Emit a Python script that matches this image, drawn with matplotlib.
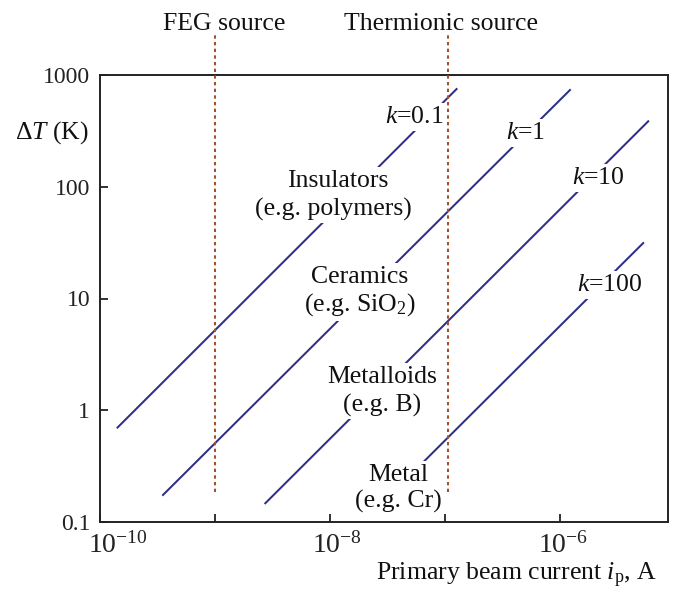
import matplotlib
matplotlib.use("Agg")
import matplotlib.pyplot as plt
import matplotlib.transforms as mtransforms
import numpy as np

plt.rcParams['font.family'] = ['Liberation Serif', 'DejaVu Serif']
plt.rcParams['mathtext.fontset'] = 'custom'
plt.rcParams['mathtext.rm'] = 'Liberation Serif'
plt.rcParams['mathtext.it'] = 'Liberation Serif:italic'
plt.rcParams['mathtext.bf'] = 'Liberation Serif:bold'

# ---- data ----
k_labels = ["$k$=0.1", "$k$=1", "$k$=10", "$k$=100"]
line_i_start = [1.40e-10, 3.48e-10, 2.70e-9, 6.56e-8]      # A
line_i_end = [1.28e-7, 1.24e-6, 5.94e-6, 5.37e-6]          # A
line_T_start = [0.69, 0.172, 0.145, 0.348]                 # K
line_T_end = [760.0, 745.0, 391.0, 31.8]                   # K

source_names = ["FEG source", "Thermionic source"]
source_currents = [1e-9, 1.07e-7]
source_T_range = [0.185, 2280.0]

material_names = ["Insulators", "Ceramics", "Metalloids", "Metal"]
material_examples = ["(e.g. polymers)", "(e.g. SiO$_2$)", "(e.g. B)", "(e.g. Cr)"]

x_ticks = [1e-10, 1e-9, 1e-8, 1e-7, 1e-6]
x_ticklabels = [r"$10^{-10}$", "", r"$10^{-8}$", "", r"$10^{-6}$"]
y_ticks = [0.1, 1, 10, 100, 1000]
y_ticklabels = ["0.1", "1", "10", "100", "1000"]

W, H = 673, 601
L, R, T, B = 100, 668, 75, 522
fig = plt.figure(figsize=(W / 100, H / 100), dpi=100)
ax = fig.add_axes([L / W, 1 - B / H, (R - L) / W, (B - T) / H])

def px(x, y):
    return ((x - L) / (R - L), (B - y) / (B - T))

line_color = "#2e2f85"
dot_color = "#a3522e"

for i0, i1, t0, t1 in zip(line_i_start, line_i_end, line_T_start, line_T_end):
    ax.plot([i0, i1], [t0, t1], color=line_color, lw=1.45, zorder=2,
            solid_capstyle='butt')

for xs in source_currents:
    ax.plot([xs, xs], source_T_range, color=dot_color, lw=1.5,
            dashes=(1.6, 1.6), zorder=6, clip_on=False)

ax.set_xscale('log')
ax.set_yscale('log')
ax.set_xlim(1e-10, 8.7e-6)
ax.set_ylim(0.1, 1000)
ax.set_xticks(x_ticks)
ax.set_yticks(y_ticks)
ax.set_yticklabels(y_ticklabels)
ax.minorticks_off()
ax.tick_params(direction='in', length=6, width=1.3, labelsize=17, pad=7,
               colors='#222222')
ax.set_xticklabels(x_ticklabels, fontsize=20)
ax.tick_params(axis='x', pad=7)
# small horizontal offsets of the exponent labels, as in the reference
x_label_shift_px = [18, 0, 7, 0, 3]
for lab, dx in zip(ax.get_xticklabels(), x_label_shift_px):
    lab.set_transform(lab.get_transform() +
                      mtransforms.ScaledTranslation(dx / 100, 0, fig.dpi_scale_trans))
for s in ax.spines.values():
    s.set_linewidth(1.4)
    s.set_color('#222222')

fs = 18.5
bb = dict(facecolor='white', edgecolor='none', pad=2.0)

# k labels
k_pos = [(414, 117), (526, 133), (598, 178), (610, 285)]
for lab, (x, y) in zip(k_labels, k_pos):
    ax.text(*px(x, y), lab, transform=ax.transAxes, ha='center', va='center',
            fontsize=fs, bbox=bb, zorder=4, color='#111111')

# material labels
name_pos = [(338, 181), (360, 277), (382, 377), (398, 475)]
ex_pos = [(333, 209), (360, 305), (382, 405), (398, 501)]
for lab, (x, y) in zip(material_names, name_pos):
    ax.text(*px(x, y), lab, transform=ax.transAxes, ha='center', va='center',
            fontsize=fs, bbox=bb, zorder=4, color='#111111')
for lab, (x, y) in zip(material_examples, ex_pos):
    ax.text(*px(x, y), lab, transform=ax.transAxes, ha='center', va='center',
            fontsize=fs, bbox=bb, zorder=4, color='#111111')

# source titles
src_pos = [(224.5, 30), (440.5, 30)]
for lab, (x, y) in zip(source_names, src_pos):
    ax.text(*px(x, y), lab, transform=ax.transAxes, ha='center', va='baseline',
            fontsize=fs, clip_on=False, color='#111111')

# axis labels
ax.set_xlabel(r"Primary beam current $i_\mathrm{p}$, A", fontsize=fs,
              loc='right', color='#111111')
ax.xaxis.set_label_coords(*px(657, 580))
ax.xaxis.label.set_va('baseline')

ax.text(*px(52, 133), r"$\Delta T$ (K)", transform=ax.transAxes, ha='center',
        va='center', fontsize=fs, clip_on=False, color='#111111')

fig.savefig("out.png", dpi=100)
